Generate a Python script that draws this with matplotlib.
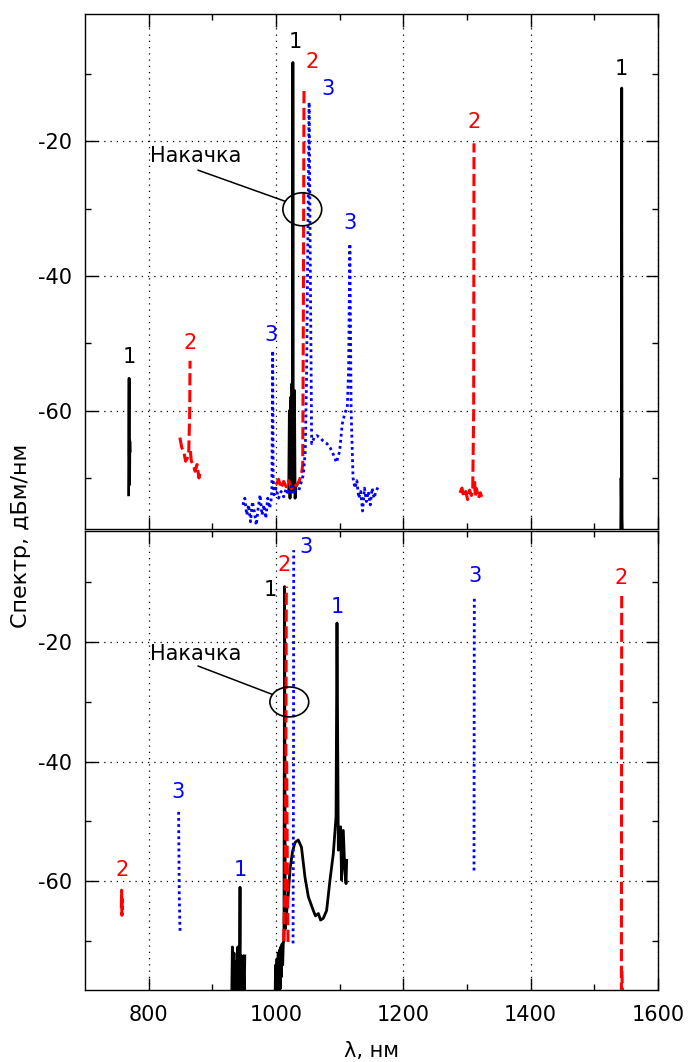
import numpy as np
import matplotlib
matplotlib.use("Agg")
import matplotlib.pyplot as plt
from matplotlib.patches import Ellipse

nan = np.nan

# ---- top panel spectra (wavelength nm, level dBm/nm), segments split by nan ----
top1_x = [768.5, 769, 769.3, 769.6, 770, 770.4, 770.8, nan,
          1020, 1021, 1022, 1023, 1024, 1025, 1026, 1026.5, 1027, 1028, 1029, 1030, 1031, nan,
          1541.5, 1542, 1542.5, 1543, 1543.5, 1544]
top1_y = [-72.5, -60, -55.2, -66, -71, -64.5, -66, nan,
          -72, -60, -73, -58, -72, -56, -70, -8.3, -60, -72, -57, -73, -71, nan,
          -78, -70, -74, -12.1, -76, -78]

top2_x = [849, 852, 855, 858, 861, 863, 864.5, 865, nan, 865.5, 867, 870, 873, 876, 879, 881, nan,
          1000, 1004, 1008, 1012, 1016, 1020, 1024, 1028, 1032, 1036, 1040, 1042, 1043, 1044, nan,
          1289, 1292, 1295, 1298, 1301, 1304, 1307, 1309, 1310.5, 1311, nan, 1312, 1313, 1315, 1318, 1321, 1323]
top2_y = [-64, -65.5, -66, -67.5, -67, -66, -60, -52.6, nan, -66, -67.5, -68, -69, -68, -70, -69, nan,
          -71, -70.2, -71.5, -70.5, -71.3, -70.4, -71.6, -70.8, -71.2, -70.5, -69.5, -68, -45, -12.1, nan,
          -72.2, -71.5, -72.8, -72, -73.2, -71.8, -72.6, -71.5, -60, -20.3, nan, -70.5, -72.8, -71.6, -73, -72.2, -72.8]

top3_x = [948, 951, 954, 957, 960, 963, 966, 969, 972, 975, 978, 981, 984, 987, 990, 992, 993.5, 994.8,
          995.5, 997, 1000, 1004, 1008, 1012, 1016, 1020, 1024, 1028, 1032, 1036, 1040, 1043, 1046, 1048,
          1050, 1052, 1054, 1056, 1060, 1064, 1069, 1074, 1080, 1085, 1090, 1095, 1100, 1104, 1108, 1112,
          1114, 1116, 1118, 1121, 1124, 1127, 1130, 1133, 1136, 1139, 1142, 1145, 1148, 1151, 1154, 1157, 1160]
top3_y = [-74, -73, -75.5, -74, -76.5, -73.5, -75, -77, -74.5, -72.5, -75.5, -74, -76, -73, -74.5, -73.5, -72, -51.1,
          -70, -72.5, -71.5, -73, -72, -72.8, -71.6, -72.5, -71.2, -72.3, -71.5, -71.8, -70.5, -69.5, -66, -55,
          -35, -14.2, -40, -64.9, -64, -63.7, -64, -64.5, -64.9, -65.5, -66.5, -67.7, -66, -62, -60.4, -59.5,
          -54, -35.2, -60, -70, -71.5, -70.4, -73, -72, -74.9, -71.5, -73.5, -72, -74, -71.5, -73, -72, -71.4]

# ---- bottom panel spectra ----
bot1_x = [930.5, 931.5, 932.5, 934, 935.5, 937, 938.5, 940, 941.5, 943, 943.5, 944, 945.5, 947, 948.5, 950, 951, nan,
          998.5, 999.5, 1000.5, 1001.5, 1002.5, 1003.5, 1004.5, 1005.5, 1006.5, 1007.5, 1008.5, 1009.5,
          1010.5, 1011.5, 1012.5, 1013.5, 1014.5, 1016, 1019, 1022, 1026, 1030, 1035, 1040, 1045.5, 1050.8,
          1058.6, 1062, 1066.5, 1070, 1074.3, 1079.5, 1084.8, 1090, 1094.3, 1095.8, 1097.9, 1101.5, 1103,
          1105.7, 1108, 1110, 1111]
bot1_y = [-79, -71, -79, -72, -79, -73.5, -79, -71, -79, -70.5, -61, -79, -72.5, -79, -72.5, -79, -72.5, nan,
          -79, -74, -79, -73, -79, -72, -79, -71.5, -78, -71, -76, -70.5,
          -74, -70.2, -70, -10.7, -68, -66, -62.6, -58, -55, -53.5, -53.1, -54.3, -59.3, -62.6,
          -64.9, -65.8, -65.4, -66.5, -66.2, -64.9, -59.8, -55.4, -49.2, -16.8, -54.8, -50.9, -59.8,
          -51.5, -58, -60.4, -56.5]

bot2_x = [757, 757.5, 758, 758.5, 759, nan,
          1012, 1014, 1015.5, 1016.2, nan, 1016.8, 1018, 1019, nan,
          1542.5, 1543, nan, 1543.3, 1543.8, 1544.3]
bot2_y = [-64.5, -61.5, -65.7, -63, -64.8, nan,
          -70, -62, -40, -10.7, nan, -40, -62, -70.2, nan,
          -79, -11.6, nan, -75, -77, -79]

bot3_x = [847, 847.5, 848, 849, 849.5, nan,
          1026.8, 1027.5, 1027.8, nan,
          1311, 1311.5]
bot3_y = [-48.4, -55, -62, -67.5, -68.5, nan,
          -70.4, -40, -4.6, nan,
          -58.2, -12.3]

# curve number labels: (x, y, text, colour)
top_labels = [(769.1, -52.0, "1", "black"), (864.9, -49.9, "2", "red"), (992.1, -48.7, "3", "blue"),
              (1029.8, -5.2, "1", "black"), (1056.5, -8.2, "2", "red"), (1081.7, -12.2, "3", "blue"),
              (1116.2, -32.1, "3", "blue"), (1311.0, -17.1, "2", "red"), (1541.8, -9.2, "1", "black")]
bot_labels = [(757.6, -58.2, "2", "red"), (846.6, -45.1, "3", "blue"), (943.4, -58.2, "1", "blue"),
              (991.7, -11.2, "1", "black"), (1013.0, -7.1, "2", "red"), (1046.6, -4.1, "3", "blue"),
              (1096.9, -14.1, "1", "blue"), (1312.5, -9.0, "3", "blue"), (1541.8, -9.2, "2", "red")]

plt.rcParams['font.family'] = ['DejaVu Sans']
plt.rcParams['axes.unicode_minus'] = False

fig = plt.figure(figsize=(6.88, 10.62), dpi=100)
L, W = 85/688, (658-85)/688
ax1 = fig.add_axes([L, 1-528.5/1062, W, (528.5-14)/1062])
ax2 = fig.add_axes([L, 1-990/1062, W, (990-531)/1062])

def draw(ax, x1, y1, x2, y2, x3, y3, labels):
    ax.plot(x1, y1, color="black", lw=2.0, ls="-", zorder=3)
    ax.plot(x2, y2, color="red", lw=2.2, ls=(0, (4, 1.5)), zorder=4)
    ax.plot(x3, y3, color="blue", lw=2.0, ls=(0, (1, 1.2)), zorder=5)
    for x, y, t, c in labels:
        ax.text(x, y, t, color=c, fontsize=15, ha="center", va="center")
    ax.set_xlim(700, 1600)
    ax.set_xticks([800, 1000, 1200, 1400, 1600])
    ax.set_xticks([900, 1100, 1300, 1500], minor=True)
    ax.set_yticks([-20, -40, -60])
    ax.set_yticks([-10, -30, -50, -70], minor=True)
    ax.grid(True, which="major", color="black", ls=(0, (1, 4)), lw=0.9)
    ax.tick_params(which="both", direction="in", top=True, right=True, labelsize=15, width=1)
    ax.tick_params(which="major", length=9, pad=9.5)
    ax.tick_params(which="minor", length=4.5)
    for s in ax.spines.values():
        s.set_linewidth(1.0)

draw(ax1, top1_x, top1_y, top2_x, top2_y, top3_x, top3_y, top_labels)
draw(ax2, bot1_x, bot1_y, bot2_x, bot2_y, bot3_x, bot3_y, bot_labels)
ax1.set_ylim(-77.5, -1.1)
ax2.set_ylim(-78.2, -1.4)
ax1.tick_params(labelbottom=False)
ax2.tick_params(axis="x", pad=11)

# pump annotations
ax1.text(873.5, -22.2, "Накачка", fontsize=15, ha="center", va="center")
ax1.plot([877.8, 1014], [-24.3, -28.9], color="black", lw=1.1)
ax1.add_patch(Ellipse((1041.3, -30.1), 61, 4.9, fill=False, ec="black", lw=1.2, zorder=6))
ax2.text(873.5, -21.9, "Накачка", fontsize=15, ha="center", va="center")
ax2.plot([877.8, 993.2], [-24.0, -28.7], color="black", lw=1.1)
ax2.add_patch(Ellipse((1020.9, -30.0), 61, 5.0, fill=False, ec="black", lw=1.2, zorder=6))

fig.text(21/688, 1-536/1062, "Спектр, дБм/нм", rotation=90, fontsize=16, ha="center", va="center")
fig.text(372/688, 1-1051/1062, "λ, нм", fontsize=15, ha="center", va="center")

plt.savefig("out.png", dpi=100)
